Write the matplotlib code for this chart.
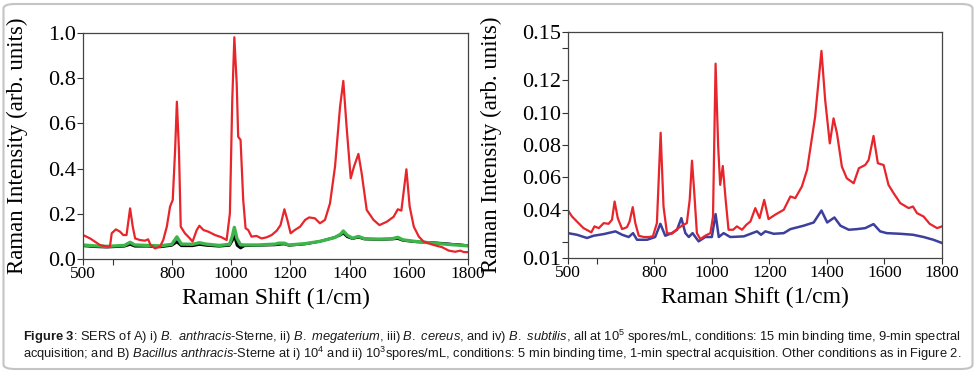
import matplotlib
matplotlib.use("Agg")
import matplotlib.pyplot as plt
from matplotlib.patches import FancyBboxPatch

# ---- panel A: four spectra at 10^5 spores/mL ----
xa_red = [500, 524, 557, 580, 591, 597, 611, 625, 636, 647, 659, 668, 676, 692, 709, 720, 728, 743,
          760, 771, 783, 794, 803, 811, 817, 824, 830, 844, 861, 870, 884, 893, 907, 923, 946, 968,
          985, 996, 1004, 1011, 1019, 1024, 1032, 1041, 1049, 1058, 1069, 1086, 1103, 1120, 1137,
          1154, 1167, 1180, 1190, 1201, 1215, 1233, 1250, 1264, 1283, 1300, 1317, 1334, 1351, 1368,
          1379, 1390, 1404, 1415, 1430, 1441, 1458, 1481, 1501, 1526, 1549, 1563, 1575, 1592, 1603,
          1617, 1634, 1650, 1684, 1713, 1735, 1757, 1774, 1785, 1800]
ya_red = [0.106, 0.091, 0.062, 0.055, 0.055, 0.114, 0.131, 0.121, 0.106, 0.106, 0.224, 0.143, 0.091,
          0.084, 0.081, 0.087, 0.062, 0.047, 0.055, 0.084, 0.143, 0.232, 0.261, 0.482, 0.696, 0.482,
          0.143, 0.114, 0.091, 0.077, 0.128, 0.147, 0.128, 0.121, 0.106, 0.096, 0.084, 0.202, 0.703,
          0.981, 0.777, 0.541, 0.527, 0.261, 0.136, 0.128, 0.099, 0.102, 0.091, 0.096, 0.106, 0.125,
          0.150, 0.220, 0.173, 0.114, 0.128, 0.143, 0.173, 0.184, 0.180, 0.158, 0.173, 0.246, 0.409,
          0.674, 0.788, 0.586, 0.357, 0.409, 0.465, 0.379, 0.217, 0.173, 0.150, 0.165, 0.187, 0.220,
          0.214, 0.397, 0.232, 0.143, 0.099, 0.077, 0.062, 0.052, 0.037, 0.032, 0.037, 0.031, 0.030]

xa_low = [500, 540, 580, 640, 659, 675, 720, 760, 800, 817, 832, 870, 893, 915, 960, 995, 1004, 1011,
          1020, 1032, 1045, 1090, 1150, 1160, 1180, 1195, 1250, 1300, 1350, 1370, 1379, 1392, 1410,
          1430, 1450, 1500, 1545, 1563, 1580, 1620, 1700, 1800]
ya_green = [0.062, 0.058, 0.056, 0.060, 0.074, 0.062, 0.060, 0.058, 0.065, 0.098, 0.066, 0.065, 0.072,
            0.066, 0.060, 0.065, 0.100, 0.140, 0.090, 0.063, 0.062, 0.062, 0.066, 0.070, 0.070, 0.062,
            0.068, 0.078, 0.095, 0.110, 0.124, 0.105, 0.092, 0.100, 0.090, 0.088, 0.090, 0.096, 0.085,
            0.078, 0.068, 0.058]
ya_black = [0.058, 0.054, 0.052, 0.056, 0.064, 0.056, 0.056, 0.053, 0.060, 0.075, 0.058, 0.058, 0.064,
            0.060, 0.056, 0.060, 0.080, 0.102, 0.060, 0.048, 0.058, 0.060, 0.062, 0.064, 0.066, 0.060,
            0.066, 0.078, 0.096, 0.106, 0.114, 0.098, 0.090, 0.096, 0.088, 0.086, 0.088, 0.090, 0.082,
            0.076, 0.070, 0.060]
ya_blue = [0.060, 0.056, 0.054, 0.058, 0.068, 0.058, 0.058, 0.055, 0.062, 0.080, 0.060, 0.060, 0.066,
           0.062, 0.058, 0.062, 0.085, 0.110, 0.070, 0.055, 0.060, 0.061, 0.064, 0.066, 0.068, 0.061,
           0.067, 0.078, 0.094, 0.108, 0.118, 0.100, 0.090, 0.097, 0.089, 0.087, 0.089, 0.092, 0.084,
           0.078, 0.072, 0.060]

# ---- panel B: B. anthracis-Sterne at 10^4 (red) and 10^3 (blue) ----
xb_red = [500, 514, 531, 554, 581, 592, 607, 624, 641, 653, 662, 673, 688, 705, 714, 725, 734, 746,
          763, 780, 795, 809, 822, 832, 844, 861, 879, 896, 913, 923, 931, 939, 948, 960, 977, 995,
          1004, 1013, 1022, 1029, 1038, 1048, 1058, 1074, 1087, 1105, 1120, 1134, 1151, 1166, 1182,
          1197, 1220, 1250, 1273, 1290, 1313, 1331, 1345, 1359, 1381, 1394, 1410, 1423, 1435, 1452,
          1469, 1493, 1511, 1533, 1545, 1562, 1577, 1597, 1614, 1632, 1655, 1684, 1699, 1713, 1736,
          1757, 1783, 1800]
yb_red = [0.0394, 0.0357, 0.0326, 0.0285, 0.0259, 0.0296, 0.0285, 0.0316, 0.0312, 0.0337, 0.0450,
          0.0347, 0.0279, 0.0291, 0.0326, 0.0415, 0.0316, 0.0238, 0.0230, 0.0230, 0.0234, 0.0316,
          0.0876, 0.0419, 0.0254, 0.0250, 0.0279, 0.0300, 0.0316, 0.0460, 0.0703, 0.0502, 0.0254,
          0.0217, 0.0238, 0.0254, 0.0357, 0.1304, 0.0790, 0.0553, 0.0670, 0.0460, 0.0275, 0.0275,
          0.0296, 0.0275, 0.0306, 0.0326, 0.0409, 0.0347, 0.0460, 0.0341, 0.0368, 0.0399, 0.0481,
          0.0471, 0.0543, 0.0646, 0.0810, 0.0975, 0.1383, 0.1077, 0.0810, 0.0965, 0.0872, 0.0666,
          0.0594, 0.0563, 0.0656, 0.0676, 0.0707, 0.0856, 0.0687, 0.0676, 0.0553, 0.0501, 0.0440,
          0.0409, 0.0419, 0.0378, 0.0357, 0.0312, 0.0285, 0.0296]

xb_blue = [500, 531, 566, 589, 624, 665, 688, 711, 726, 740, 775, 803, 821, 838, 861, 879, 894, 908,
           920, 933, 954, 977, 1000, 1013, 1024, 1041, 1064, 1111, 1157, 1171, 1186, 1215, 1250, 1273,
           1319, 1354, 1381, 1401, 1426, 1447, 1476, 1505, 1533, 1562, 1585, 1608, 1655, 1699, 1736,
           1770, 1800]
yb_blue = [0.0254, 0.0244, 0.0224, 0.0238, 0.0248, 0.0265, 0.0244, 0.0230, 0.0254, 0.0213, 0.0213,
           0.0230, 0.0312, 0.0238, 0.0254, 0.0275, 0.0347, 0.0254, 0.0230, 0.0254, 0.0203, 0.0230,
           0.0230, 0.0372, 0.0230, 0.0254, 0.0230, 0.0234, 0.0265, 0.0244, 0.0265, 0.0250, 0.0254,
           0.0279, 0.0300, 0.0320, 0.0394, 0.0320, 0.0351, 0.0300, 0.0275, 0.0279, 0.0285, 0.0310,
           0.0265, 0.0254, 0.0250, 0.0244, 0.0230, 0.0213, 0.0193]

x_ticks = [500, 600, 800, 1000, 1200, 1400, 1600, 1800]
x_ticklabels = ['500', '', '800', '1000', '1200', '1400', '1600', '1800']
ya_ticks = [0.0, 0.2, 0.4, 0.6, 0.8, 1.0]
ya_ticklabels = ['0.0', '0.2', '0.4', '0.6', '0.8', '1.0']
yb_ticks = [0.01, 0.02, 0.04, 0.06, 0.08, 0.10, 0.12, 0.14, 0.15]
yb_ticklabels = ['0.01', '', '0.04', '0.06', '0.08', '0.10', '0.12', '', '0.15']

RED = '#e8252b'
BLUE = '#3c3f9c'
GREEN = '#3db54a'

cap_font = 'Liberation Sans'

plt.rcParams['font.family'] = 'Liberation Serif'
plt.rcParams['mathtext.fontset'] = 'custom'
plt.rcParams['mathtext.rm'] = cap_font
plt.rcParams['mathtext.it'] = cap_font + ':italic'
plt.rcParams['mathtext.bf'] = cap_font + ':bold'

fig = plt.figure(figsize=(9.76, 3.73), dpi=100)
W, H = 976, 373

border = FancyBboxPatch((3.5 / W, 4 / H), 969 / W, 365 / H, boxstyle='round,pad=0,rounding_size=0.012',
                        transform=fig.transFigure, fill=False, edgecolor='#c4c4c4', linewidth=1.5)
fig.patches.append(border)

ax1 = fig.add_axes([83 / W, (H - 259) / H, 385 / W, 226 / H])
ax2 = fig.add_axes([568 / W, (H - 258) / H, 374 / W, 226 / H])

ax1.plot(xa_low, ya_blue, color=BLUE, lw=1.6)
ax1.plot(xa_low, ya_black, color='black', lw=1.8)
ax1.plot(xa_low, ya_green, color=GREEN, lw=2.4)
ax1.plot(xa_red, ya_red, color=RED, lw=1.6)
ax1.set_ylim(0.0, 1.0)
ax1.set_yticks(ya_ticks)
ax1.set_yticklabels(ya_ticklabels)

ax2.plot(xb_blue, yb_blue, color=BLUE, lw=1.8)
ax2.plot(xb_red, yb_red, color=RED, lw=1.6)
ax2.set_ylim(0.01, 0.15)
ax2.set_yticks(yb_ticks)
ax2.set_yticklabels(yb_ticklabels)

for ax, lx in ((ax1, -0.143), (ax2, -0.176)):
    ax.set_xlim(500, 1800)
    ax.set_xticks(x_ticks)
    ax.set_xticklabels(x_ticklabels)
    ax.tick_params(axis='x', direction='out', length=4, labelsize=12.5, pad=1, color='#333333')
    ax.tick_params(axis='y', direction='out', length=4, labelsize=16, pad=1, color='#333333')
    for s in ax.spines.values():
        s.set_color('#444444')
        s.set_linewidth(0.9)
    ax.set_xlabel('Raman Shift (1/cm)', fontsize=17)
    ax.set_ylabel('Raman Intensity (arb. units)', fontsize=16.5)
    ax.xaxis.set_label_coords(0.5, -0.128)
    ax.yaxis.set_label_coords(lx, 0.5)

caption = (r'$\mathbf{Figure\ 3}$: SERS of A) i) $\mathit{B.\ anthracis}$-Sterne, ii) $\mathit{B.\ megaterium}$, '
           r'iii) $\mathit{B.\ cereus}$, and iv) $\mathit{B.\ subtilis}$, all at 10$^{5}$ spores/mL, conditions: '
           r'15 min binding time, 9-min spectral' '\n'
           r'acquisition; and B) $\mathit{Bacillus\ anthracis}$-Sterne at i) 10$^{4}$ and ii) 10$^{3}$spores/mL, '
           r'conditions: 5 min binding time, 1-min spectral acquisition. Other conditions as in Figure 2.')
cap = fig.text(23 / W, 1 - 345.5 / H, caption, fontsize=8, family=cap_font, color='#1a1a1a',
               va='center', ha='left', linespacing=0.95)

# scale the caption so that its lines span the same width as in the figure
r = fig.canvas.get_renderer()
w = cap.get_window_extent(r).width
cap.set_fontsize(8 * 937 / w)

fig.savefig('out.png', dpi=100)
